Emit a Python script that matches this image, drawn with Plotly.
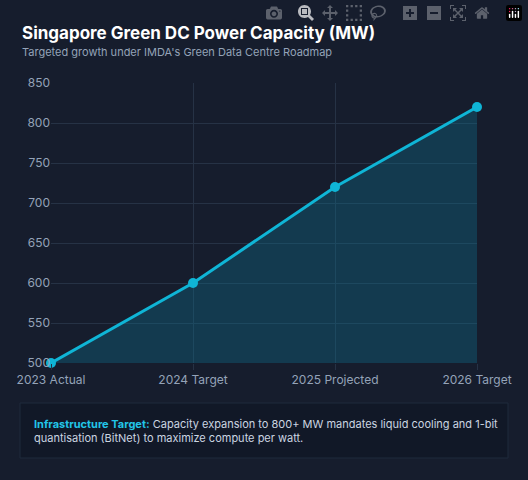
import plotly.graph_objects as go

categories = ["2023 Actual", "2024 Target", "2025 Projected", "2026 Target"]
capacity_mw = [500, 600, 720, 820]
y_ticks = [500, 550, 600, 650, 700, 750, 800, 850]

FONT = "Inter"
CARD = "#161d2d"
GRID = "#263245"

fig = go.Figure()

fig.add_trace(go.Scatter(
    x=list(range(len(categories))),
    y=capacity_mw,
    mode="lines+markers",
    line=dict(color="#0fb5d6", width=3),
    marker=dict(size=10, color="#0fb5d6"),
    fill="tozeroy",
    fillcolor="rgba(14,116,144,0.35)",
    hoverinfo="skip",
    cliponaxis=False,
))

fig.update_layout(
    width=528, height=480,
    margin=dict(l=51, r=51, t=83, b=117),
    paper_bgcolor=CARD,
    plot_bgcolor=CARD,
    showlegend=False,
    font=dict(family=FONT, color="#94a3b8", size=12),
    xaxis=dict(
        range=[0, 3],
        tickvals=list(range(len(categories))),
        ticktext=categories,
        showgrid=True, gridcolor=GRID, zeroline=False,
        showline=False, ticks="outside", ticklen=6, tickcolor=GRID,
        tickfont=dict(size=12, color="#94a3b8"),
    ),
    yaxis=dict(
        range=[500, 850],
        tickvals=y_ticks,
        showgrid=True, gridcolor=GRID, zeroline=False,
        showline=False,
        tickfont=dict(size=12, color="#94a3b8"),
    ),
    shapes=[
        dict(type="rect", xref="paper", yref="paper",
             x0=-31 / 426, x1=457 / 426, y0=-95 / 280, y1=-40 / 280,
             fillcolor="#111827", line=dict(color="#1f2a3c", width=1),
             layer="below"),
    ],
    annotations=[
        dict(text="<b>Singapore Green DC Power Capacity (MW)</b>",
             xref="paper", yref="paper", x=-31 / 426, y=(363 - 33) / 280,
             xanchor="left", yanchor="middle", showarrow=False,
             font=dict(size=17, color="#ffffff", family=FONT)),
        dict(text="Targeted growth under IMDA's Green Data Centre Roadmap",
             xref="paper", yref="paper", x=-31 / 426, y=(363 - 52) / 280,
             xanchor="left", yanchor="middle", showarrow=False,
             font=dict(size=11, color="#94a3b8", family=FONT)),
        dict(text="<b><span style='color:#22c5e8'>Infrastructure Target:</span></b> "
                  "Capacity expansion to 800+ MW mandates liquid cooling and 1-bit<br>"
                  "quantisation (BitNet) to maximize compute per watt.",
             xref="paper", yref="paper", x=-19 / 426, y=-67.5 / 280,
             xanchor="left", yanchor="middle", align="left", showarrow=False,
             font=dict(size=11, color="#cbd5e1", family=FONT)),
    ],
)

# drop the browser's default body margin so the card fills the window
fig.write_html("out.html",
               post_script="document.body.style.margin='0';document.body.style.background='#0f1420';")
